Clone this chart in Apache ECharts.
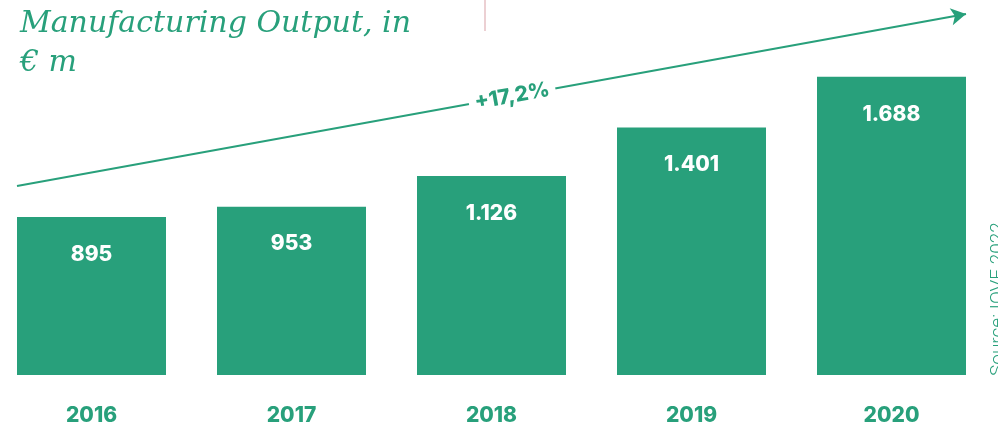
<!DOCTYPE html>
<html><head><meta charset="utf-8">
<script src="https://cdn.jsdelivr.net/npm/echarts@6/dist/echarts.min.js"></script>
<style>html,body{margin:0;padding:0;background:#fff;}#c{width:998px;height:430px;}</style>
</head><body><div id="c"></div>
<script>
var years = ['2016', '2017', '2018', '2019', '2020'];
var output = [895, 953, 1126, 1401, 1688];
var growthLabel = '+17,2%';
var titleText = 'Manufacturing Output, in\n€ m';
var sourceText = 'Source: IOVE 2022';
// trend arrow endpoints: x as fraction of the bar span (first bar left edge to last bar right edge), y in value units
var arrowStart = [0, 1070];
var arrowEnd = [1, 2043];

var green = '#28a07b';
function fmt(v){ return String(v).replace(/\B(?=(\d{3})+(?!\d))/g, '.'); }

var chart = echarts.init(document.getElementById('c'));
chart.setOption({
  animation: false,
  backgroundColor: '#fff',
  title: {
    text: titleText, left: 15, top: 0,
    textStyle: { fontFamily: 'DejaVu Serif', fontStyle: 'italic', fontWeight: 'normal', fontSize: 30, lineHeight: 39, color: green }
  },
  grid: [
    { left: 91.5, right: 106.5, top: 4, bottom: 55, containLabel: false },
    { left: 17, right: 32, top: 4, bottom: 55, containLabel: false }
  ],
  xAxis: [
    { type: 'category', data: years, boundaryGap: false, gridIndex: 0, axisLine: {show: false}, axisTick: {show: false},
      splitLine: {show: false},
      axisLabel: { margin: 30, fontFamily: 'Inter', fontWeight: 800, fontSize: 21, color: green } },
    { type: 'value', gridIndex: 1, min: 0, max: 1, show: false }
  ],
  yAxis: [
    { type: 'value', gridIndex: 0, min: 0, max: 2100, show: false },
    { type: 'value', gridIndex: 1, min: 0, max: 2100, show: false }
  ],
  series: [
    { type: 'bar', data: output, barWidth: 149, clip: false, itemStyle: { color: green },
      label: { show: true, position: 'insideTop', distance: 27, formatter: function(p){ return fmt(p.value); },
        fontFamily: 'Inter', fontWeight: 800, fontSize: 21, color: '#fff' } },
    { type: 'line', xAxisIndex: 1, yAxisIndex: 1, data: [], silent: true,
      markLine: {
        silent: true, symbol: ['none', 'arrow'], symbolSize: [13, 15],
        lineStyle: { color: green, width: 2, type: 'solid' },
        label: { show: true, position: 'middle', distance: 0, verticalAlign: 'middle', offset: [21, 0], formatter: growthLabel, color: green,
          fontFamily: 'Inter', fontWeight: 800, fontSize: 21, backgroundColor: '#fff', padding: [2, 6] },
        data: [[ { coord: arrowStart }, { coord: arrowEnd } ]]
      } }
  ],
  graphic: [
    { type: 'line', shape: { x1: 485, y1: 0, x2: 485, y2: 31 }, style: { stroke: '#ecd0d3', lineWidth: 2 } },
    { type: 'text', x: 998, y: 376, rotation: Math.PI / 2,
      style: { text: sourceText, align: 'left', verticalAlign: 'middle', fill: green,
        font: '300 19px Roboto' } }
  ]
});
</script></body></html>
